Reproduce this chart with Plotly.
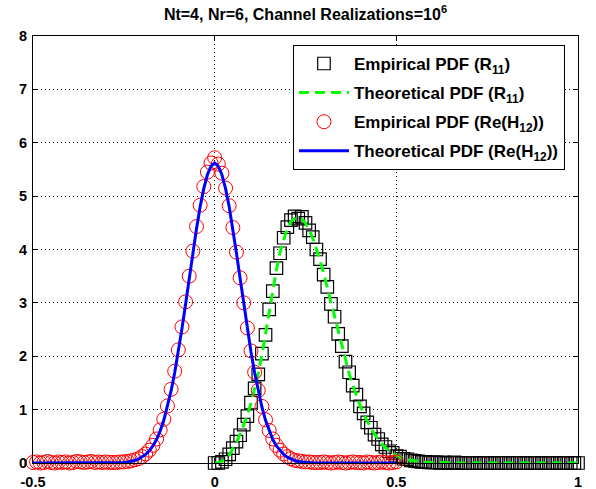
import numpy as np
import plotly.graph_objects as go

# ---- data ----
x_r11 = np.round(np.arange(0, 101) * 0.01, 2)          # R11 bin centres 0 .. 1
r11_empirical = [0.0, 0.0, 0.02, 0.07, 0.16, 0.28, 0.40, 0.52, 0.72, 0.88,
                 1.13, 1.40, 1.66, 2.05, 2.40, 2.88, 3.22, 3.65, 3.93, 4.22,
                 4.42, 4.55, 4.62, 4.58, 4.61, 4.50, 4.36, 4.23, 4.00, 3.82,
                 3.53, 3.30, 2.98, 2.74, 2.42, 2.19, 1.90, 1.70, 1.45, 1.28,
                 1.06, 0.93, 0.76, 0.66, 0.53, 0.45, 0.35, 0.30, 0.22, 0.19,
                 0.13, 0.12, 0.08, 0.07, 0.05, 0.04, 0.03, 0.02, 0.02, 0.01,
                 0.01, 0.01, 0.0, 0.01, 0.0, 0.0, 0.01, 0.0, 0.0, 0.0,
                 0.0] + [0.0] * 30
r11_theoretical = [0.0, 0.005, 0.03, 0.08, 0.15, 0.26, 0.39, 0.54, 0.71, 0.90,
                   1.12, 1.38, 1.68, 2.02, 2.42, 2.85, 3.25, 3.62, 3.95, 4.20,
                   4.40, 4.52, 4.58, 4.60, 4.57, 4.49, 4.37, 4.21, 4.02, 3.80,
                   3.55, 3.28, 3.00, 2.72, 2.44, 2.17, 1.92, 1.68, 1.46, 1.26,
                   1.08, 0.92, 0.77, 0.65, 0.54, 0.44, 0.36, 0.29, 0.23, 0.18,
                   0.14, 0.11, 0.085, 0.065, 0.05, 0.038, 0.028, 0.02, 0.015, 0.011,
                   0.008, 0.006, 0.005, 0.004, 0.003, 0.002, 0.002, 0.001, 0.001, 0.001,
                   0.001] + [0.0] * 30

x_h12 = np.round(np.arange(-50, 51) * 0.01, 2)          # Re(H12) bin centres -0.5 .. 0.5
h12_empirical = [0.01, 0.02, 0.0, 0.01, 0.03, 0.01, 0.0, 0.02, 0.01, 0.02, 0.0,
                 0.01, 0.03, 0.02, 0.01, 0.02, 0.03, 0.01, 0.02, 0.01, 0.02,
                 0.01, 0.01, 0.01, 0.02, 0.02, 0.03, 0.04, 0.06, 0.08, 0.12,
                 0.17, 0.24, 0.33, 0.45, 0.62, 0.82, 1.07, 1.38, 1.72, 2.12,
                 2.55, 3.02, 3.50, 3.97, 4.43, 4.83, 5.18, 5.45, 5.62,
                 5.72,
                 5.60, 5.43, 5.15, 4.82, 4.41, 3.95, 3.47, 3.00, 2.53, 2.10,
                 1.70, 1.36, 1.06, 0.81, 0.61, 0.45, 0.33, 0.24, 0.17, 0.12,
                 0.08, 0.05, 0.04, 0.03, 0.02, 0.02, 0.01, 0.01, 0.01,
                 0.02, 0.01, 0.0, 0.01, 0.02, 0.01, 0.0, 0.01, 0.02, 0.01, 0.01,
                 0.0, 0.02, 0.01, 0.0, 0.01, 0.02, 0.01, 0.0, 0.01, 0.02]
h12_theoretical = [0.0] * 21 + [
    0.001, 0.002, 0.004, 0.007, 0.011, 0.019, 0.03, 0.046, 0.07, 0.11,
    0.16, 0.23, 0.32, 0.44, 0.60, 0.80, 1.05, 1.35, 1.69, 2.08,
    2.52, 2.98, 3.46, 3.93, 4.39, 4.80, 5.14, 5.40, 5.56,
    5.62,
    5.56, 5.40, 5.14, 4.80, 4.39, 3.93, 3.46, 2.98, 2.52, 2.08,
    1.69, 1.35, 1.05, 0.80, 0.60, 0.44, 0.32, 0.23, 0.16, 0.11,
    0.07, 0.046, 0.03, 0.019, 0.011, 0.007, 0.004, 0.002, 0.001] + [0.0] * 21

x_ticks = [-0.5, 0, 0.5, 1]
x_tick_labels = ["-0.5", "0", "0.5", "1"]
y_ticks = [0, 1, 2, 3, 4, 5, 6, 7, 8]

FONT = "Liberation Sans, Arial, sans-serif"

fig = go.Figure()
fig.add_trace(go.Scatter(
    x=x_r11, y=r11_empirical, mode="markers", name="Empirical PDF (R<sub>11</sub>)",
    marker=dict(symbol="square-open", size=12.5, color="black", line=dict(width=1.2)),
    cliponaxis=False, legendgroup="a"))
fig.add_trace(go.Scatter(
    x=x_r11, y=r11_theoretical, mode="lines", name="Theoretical PDF (R<sub>11</sub>)",
    line=dict(color="#00ff00", width=3, dash="10px,6px"), legendgroup="b"))
fig.add_trace(go.Scatter(
    x=x_h12, y=h12_empirical, mode="markers", name="Empirical PDF (Re(H<sub>12</sub>))",
    marker=dict(symbol="circle-open", size=14, color="red", line=dict(width=1)),
    cliponaxis=False, legendgroup="c"))
fig.add_trace(go.Scatter(
    x=x_h12, y=h12_theoretical, mode="lines", name="Theoretical PDF (Re(H<sub>12</sub>))",
    line=dict(color="#0000ff", width=3), legendgroup="d"))

axis_common = dict(
    showline=True, linecolor="black", linewidth=1, mirror="ticks",
    ticks="inside", ticklen=5, tickcolor="black", tickwidth=1,
    showgrid=True, gridcolor="black", gridwidth=1, griddash="1px,3px",
    zeroline=False, automargin=False,
    tickfont=dict(family=FONT, size=14.5, color="black", weight="bold"),
)
fig.update_xaxes(range=[-0.5, 1], tickvals=x_ticks, ticktext=x_tick_labels,
                 ticklabelstandoff=6, **axis_common)
fig.update_yaxes(range=[0, 8], tickvals=y_ticks, ticklabelstandoff=2, **axis_common)

fig.update_layout(
    width=596, height=489,
    margin=dict(l=33, r=18, t=36, b=26),
    paper_bgcolor="white", plot_bgcolor="white",
    title=dict(text="Nt=4, Nr=6, Channel Realizations=10<sup>6</sup>",
               x=0.5, xref="paper", y=1 - 14 / 489, yref="container", yanchor="middle",
               font=dict(family=FONT, size=16, color="black", weight="bold")),
    legend=dict(x=0.477, y=0.979, xanchor="left", yanchor="top",
                bgcolor="white", bordercolor="black", borderwidth=1,
                font=dict(family=FONT, size=17, color="black", weight="bold"),
                itemwidth=50, tracegroupgap=4),
    showlegend=True,
)

fig.write_html("out.html")
